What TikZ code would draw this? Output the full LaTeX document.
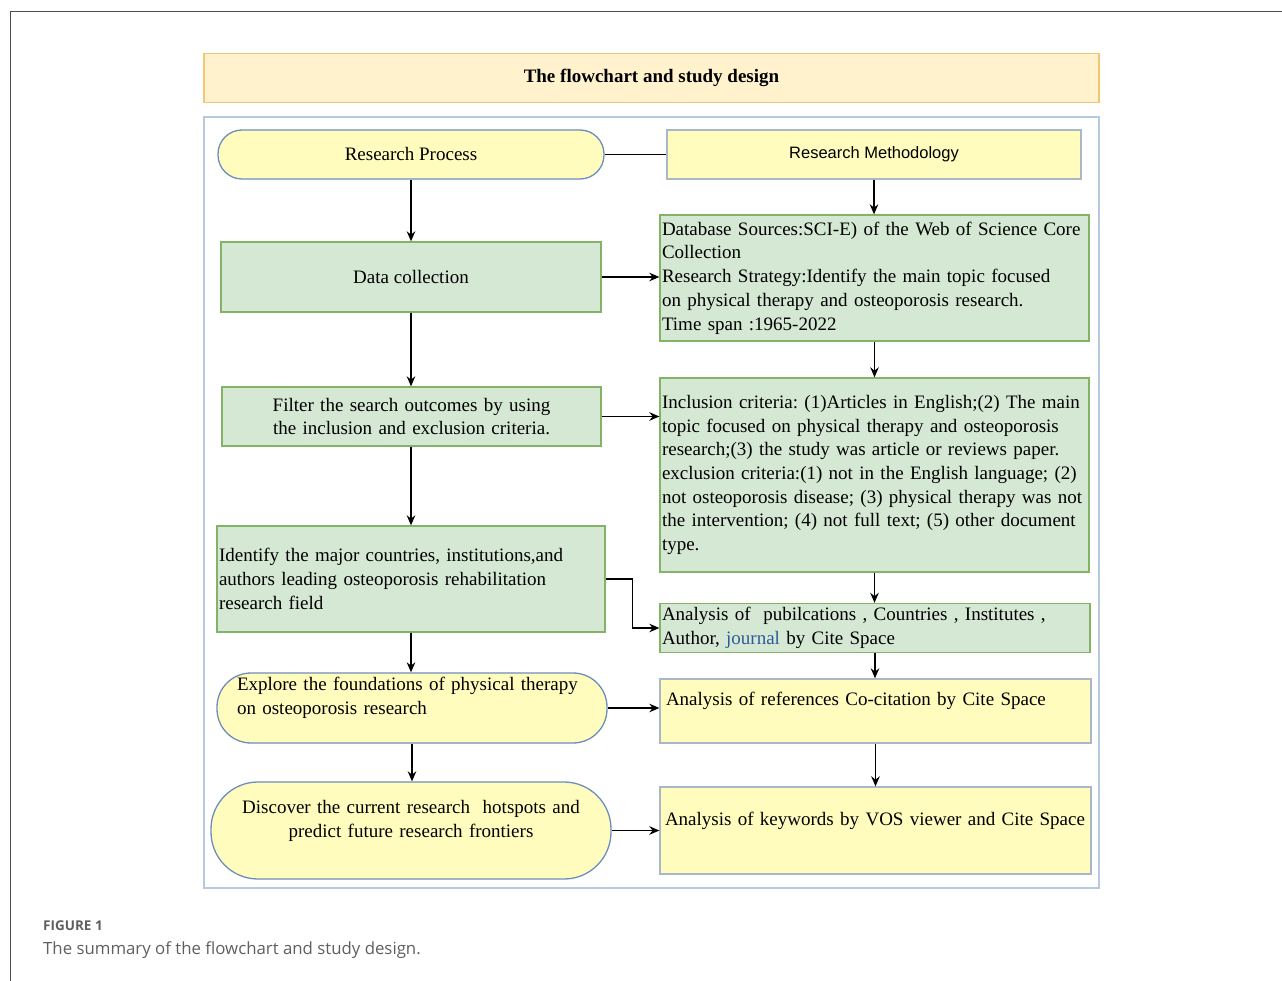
\documentclass[tikz,border=0pt]{standalone}
\usepackage{fontspec}
\setmainfont{Liberation Serif}
\newfontfamily\methfont{Liberation Sans}
\newfontfamily\capfont{Open Sans}
\usetikzlibrary{arrows.meta}
\definecolor{greenfill}{HTML}{D5E8D4}
\definecolor{greenline}{HTML}{82B366}
\definecolor{yellowfill}{HTML}{FFFCBE}
\definecolor{greyline}{HTML}{A9B8C8}
\definecolor{blueline}{HTML}{6C8EBF}
\definecolor{titlefill}{HTML}{FFF2CC}
\definecolor{titleline}{HTML}{EFC775}
\definecolor{frameline}{HTML}{B7C9DD}
\definecolor{journalblue}{HTML}{2E5C9A}
\definecolor{capgrey}{HTML}{5F5F5F}
\frenchspacing

\begin{document}
\begin{tikzpicture}[x=1pt,y=-1pt,
  every node/.style={font=\fontsize{19}{23.7}\selectfont},
  greenbox/.style={draw=greenline,fill=greenfill,line width=1.3pt,inner sep=2pt},
  yellowbox/.style={draw=greyline,fill=yellowfill,line width=1.3pt,inner sep=2pt},
  pill/.style={draw=blueline,fill=yellowfill,line width=1.3pt},
  link/.style={line width=1.6pt,-{Stealth[length=10pt,width=8.5pt]}}]
\useasboundingbox (0,0) rectangle (1282,981);
\draw[line width=1pt,black!70] (10,981) -- (10,12) -- (1282,12);
\node[draw=titleline,fill=titlefill,line width=1.2pt,minimum width=895pt,minimum height=49pt,font=\fontsize{19}{23.7}\selectfont\bfseries] (title) at (651.5,78) {The flowchart and study design};
\draw[frameline,line width=1.4pt] (204,117) rectangle (1099,888);
\node[pill,rounded corners=24pt,minimum width=386pt,minimum height=49pt] (proc) at (411,154.5) {Research Process};
\node[yellowbox,minimum width=414pt,minimum height=49pt,font=\methfont\fontsize{16.5}{20}\selectfont] (meth) at (874,154.5) {Research Methodology};
\node[greenbox,minimum width=380pt,minimum height=70pt] (dc) at (411,277) {Data collection};
\node[greenbox,text width=425pt,align=left,minimum height=126pt] (db) at (874.5,278) {Database Sources:SCI-E) of the Web of Science Core\\Collection\\Research Strategy:Identify the main topic focused\\on physical therapy and osteoporosis research.\\Time span :1965-2022};
\node[greenbox,text width=375pt,align=center,minimum height=59pt] (filt) at (411.5,416.5) {Filter the search outcomes by using\\the inclusion and exclusion criteria.};
\node[greenbox,text width=425pt,align=left,minimum height=194pt] (incl) at (874.5,475) {Inclusion criteria: (1)Articles in English;(2) The main\\topic focused on physical therapy and osteoporosis\\research;(3) the study was article or reviews paper.\\exclusion criteria:(1) not in the English language; (2)\\not osteoporosis disease; (3) physical therapy was not\\the intervention; (4) not full text; (5) other document\\type.};
\node[greenbox,text width=384pt,align=left,minimum height=106pt] (ident) at (411,579) {Identify the major countries, institutions,and\\authors leading osteoporosis rehabilitation\\research field};
\node[greenbox,text width=426pt,align=left,minimum height=49pt] (pub) at (875,628) {Analysis of\ \ pubilcations , Countries , Institutes ,\\Author, \textcolor{journalblue}{journal} by Cite Space};
\node[pill,rounded corners=34pt,inner xsep=20pt,text width=350pt,align=left,minimum height=70pt] (expl) at (412,708) {Explore the foundations of physical therapy\\on osteoporosis research\\\mbox{}};
\node[yellowbox,inner xsep=6pt,text width=419pt,align=left,minimum height=64pt] (refs) at (875.5,711) {Analysis of references Co-citation by Cite Space\\\mbox{}};
\node[pill,rounded corners=47pt,inner xsep=10pt,text width=380pt,align=center,minimum height=97pt] (disc) at (411,830.5) {Discover the current research\ \ hotspots and\\predict future research frontiers\\\mbox{}};
\node[yellowbox,inner xsep=5pt,text width=421pt,align=left,minimum height=87pt] (keyw) at (875.5,830.5) {Analysis of keywords by VOS viewer and Cite Space\\\mbox{}};
\draw[line width=1.6pt] (proc.east) -- (meth.west);
\draw[link] (meth.south) -- (meth.south |- db.north);
\draw[link] (proc.south) -- (proc.south |- dc.north);
\draw[link] (dc.east) -- (dc.east -| db.west);
\draw[link] (db.south) -- (incl.north);
\draw[link] (dc.south) -- (dc.south |- filt.north);
\draw[link] (filt.east) -- (filt.east -| incl.west);
\draw[link] (incl.south) -- (incl.south |- pub.north);
\draw[link] (filt.south -| dc.south) -- (dc.south |- ident.north);
\draw[link] (ident.east) -- ++(27,0) |- (pub.west);
\draw[link] (ident.south) -- (ident.south |- expl.north);
\draw[link] (pub.south) -- (pub.south |- refs.north);
\draw[link] (expl.east) -- (expl.east -| refs.west);
\draw[link] (expl.south) -- (expl.south |- disc.north);
\draw[link] (refs.south) -- (refs.south |- keyw.north);
\draw[link] (disc.east) -- (keyw.west);
\node[anchor=base west,font=\capfont\bfseries\fontsize{13.5}{16}\selectfont,text=capgrey,inner sep=0pt] (fig) at (43,930) {FIGURE 1};
\node[anchor=base west,font=\capfont\fontsize{16.8}{20}\selectfont,text=capgrey,inner sep=0pt] (cap) at (43,954) {The summary of the flowchart and study design.};
\end{tikzpicture}
\end{document}
